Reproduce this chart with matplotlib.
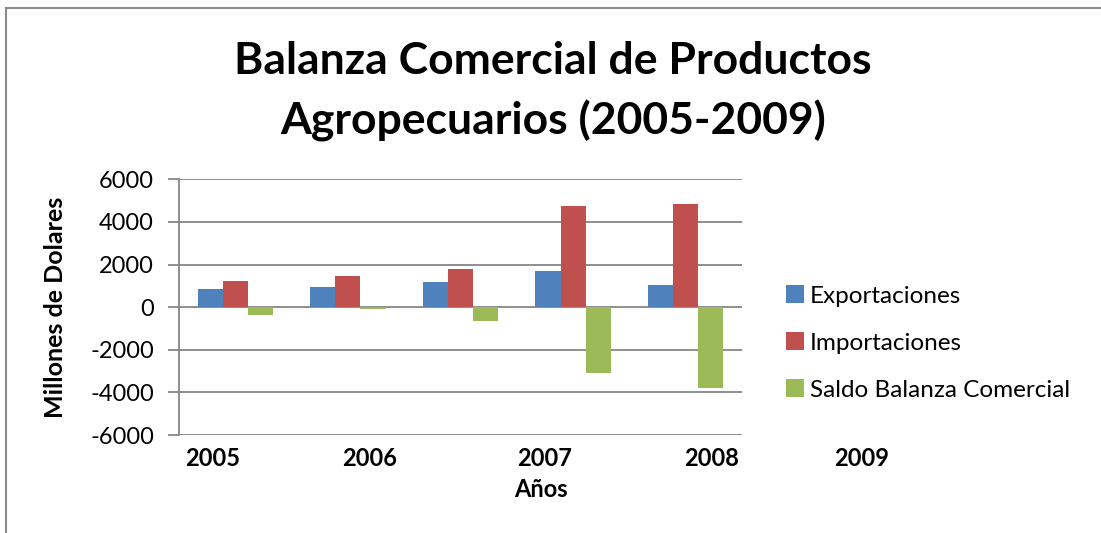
import matplotlib
matplotlib.use("Agg")
import matplotlib.pyplot as plt
from matplotlib.lines import Line2D
import numpy as np

plt.rcParams['font.family'] = ['Lato', 'DejaVu Sans']

categories = ["2005", "2006", "2007", "2008", "2009"]
exportaciones = [860, 940, 1160, 1675, 1050]
importaciones = [1220, 1470, 1785, 4760, 4840]
saldo = [-390, -80, -640, -3070, -3775]
series_names = ["Exportaciones", "Importaciones", "Saldo Balanza Comercial"]
colors = ["#4F81BD", "#C0504D", "#9BBB59"]
# positions (in category units) where the year labels were placed in the original
label_pos = [-0.2, 1.19, 2.75, 4.23, 5.56]
yticks = [-6000, -4000, -2000, 0, 2000, 4000, 6000]
title_lines = ["Balanza Comercial de Productos", "Agropecuarios (2005-2009)"]

W, H = 1101, 533
fig = plt.figure(figsize=(W/100, H/100), dpi=100)
ax = fig.add_axes([179/W, (H-435)/H, (742-179)/W, (435-179.3)/H])

x = np.arange(len(categories))
w = 0.223
grid_c = "#868686"
for i, (vals, name, c) in enumerate(zip([exportaciones, importaciones, saldo], series_names, colors)):
    ax.bar(x + (i-1)*w, vals, w, color=c, label=name, zorder=3)

ax.set_xlim(-0.5, len(categories)-0.5)
ax.set_ylim(-6000, 6000)
ax.set_yticks(yticks)
ax.set_yticklabels([str(t) for t in yticks], fontsize=17)
ax.yaxis.grid(True, color=grid_c, linewidth=1.3, zorder=0)
ax.set_axisbelow(True)
for s in ["top", "right", "bottom"]:
    ax.spines[s].set_visible(False)
ax.spines["left"].set_color(grid_c)
ax.spines["left"].set_linewidth(1.3)
ax.tick_params(axis='y', length=8, width=1.3, color=grid_c, pad=10)
ax.set_xticks([])

for lbl, p in zip(categories, label_pos):
    ax.text(p, -0.09, lbl, transform=ax.get_xaxis_transform(), ha='center', va='center',
            fontsize=17, fontweight='bold', clip_on=False)

ax.text(0.643, -0.215, "Años", transform=ax.transAxes, ha='center', va='center',
        fontsize=17, fontweight='bold')
ax.set_ylabel("Millones de Dolares", fontsize=18, fontweight='bold')
ax.yaxis.set_label_coords((67-179)/(742-179), 0.5)

fig.text(553/W, 1-61/H, title_lines[0], ha='center', va='center', fontsize=32, fontweight='bold')
fig.text(553/W, 1-121/H, title_lines[1], ha='center', va='center', fontsize=32, fontweight='bold')

leg = fig.legend(loc='center left', bbox_to_anchor=(764/W, 1-343/H), frameon=False,
                 fontsize=17.5, handlelength=0.75, handleheight=0.75, handletextpad=0.25,
                 labelspacing=1.05)

# outer chart border (cropped at right and bottom)
fig.add_artist(Line2D([6.5/W, 6.5/W], [0, 1-8/H], transform=fig.transFigure, color="#8c8c8c", lw=1.5))
fig.add_artist(Line2D([6.5/W, 1], [1-8/H, 1-8/H], transform=fig.transFigure, color="#8c8c8c", lw=1.5))

fig.savefig("out.png", dpi=100)
